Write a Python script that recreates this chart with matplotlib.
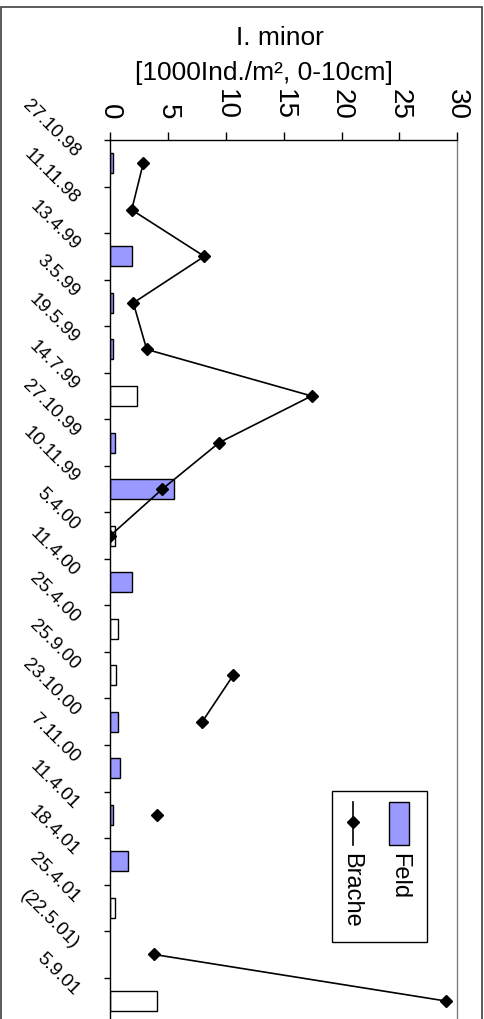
import numpy as np
import matplotlib
matplotlib.use("Agg")
import matplotlib.pyplot as plt
from matplotlib.patches import Rectangle
from matplotlib.lines import Line2D
from matplotlib.transforms import ScaledTranslation

plt.rcParams['font.family'] = ['Liberation Sans', 'DejaVu Sans']

# Sampling dates (category axis, top to bottom)
dates = ['27.10.98', '11.11.98', '13.4.99', '3.5.99', '19.5.99', '14.7.99',
         '27.10.99', '10.11.99', '5.4.00', '11.4.00', '25.4.00', '25.9.00',
         '23.10.00', '7.11.00', '11.4.01', '18.4.01', '25.4.01', '(22.5.01)',
         '5.9.01']

nan = np.nan
# Field plots, filled bars [1000 Ind./m²]
feld = [0.2, nan, 1.85, 0.2, 0.2, nan, 0.37, 5.5, nan, 1.85, nan, nan,
        0.69, 0.84, 0.2, 1.5, nan, nan, nan]
# Field plots, open bars [1000 Ind./m²]
feld_open = [nan, nan, nan, nan, nan, 2.33, nan, nan, 0.37, nan, 0.69, 0.52,
             nan, nan, nan, nan, 0.37, nan, 4.01]
# Fallow plots [1000 Ind./m²]
brache = [2.85, 1.85, 8.13, 1.99, 3.15, 17.4, 9.43, 4.5, 0.0, nan, nan,
          10.63, 7.95, nan, 4.01, nan, nan, 3.78, 29.0]

value_ticks = [0, 5, 10, 15, 20, 25, 30]
title_lines = ['I. minor', '[1000Ind./m², 0-10cm]']
legend_labels = ['Feld', 'Brache']

W, H, DPI = 485, 1019, 100
fig = plt.figure(figsize=(W / DPI, H / DPI), dpi=DPI)
fig.patch.set_facecolor('white')

# axes geometry in pixels
ax_l, ax_r, ax_t = 110.3, 457.3, 140.0
slot = 46.54
ax_b = ax_t + slot * len(dates)
ax = fig.add_axes([ax_l / W, (H - ax_b) / H, (ax_r - ax_l) / W, (ax_b - ax_t) / H])

pos = np.arange(len(dates))
bar_h = 0.43
ax.barh(pos, feld, height=bar_h, color='#9999FF', edgecolor='black',
        linewidth=1.0, zorder=2)
ax.barh(pos, feld_open, height=bar_h, color='white', edgecolor='black',
        linewidth=1.0, zorder=2)
ax.plot(brache, pos, color='black', lw=1.2, marker='D', ms=6.5,
        mfc='black', mec='black', zorder=3)

ax.set_xlim(0, 30)
ax.set_ylim(len(dates) - 0.5, -0.5)

for s in ['left', 'top']:
    ax.spines[s].set_color('black')
    ax.spines[s].set_linewidth(1.0)
for s in ['right', 'bottom']:
    ax.spines[s].set_color('#808080')
    ax.spines[s].set_linewidth(1.0)

# value axis on top
ax.xaxis.tick_top()
ax.set_xticks(value_ticks)
ax.set_xticklabels([])
ax.tick_params(axis='x', direction='out', length=5.5, width=1.0, color='black')
voff = ScaledTranslation(0, 20 / DPI, fig.dpi_scale_trans)
for v in value_ticks:
    ax.text(v, 1.0, str(v), transform=ax.get_xaxis_transform() + voff,
            rotation=-90, ha='center', va='bottom', fontsize=20)

# category axis: ticks on slot boundaries, labels rotated
ax.set_yticks(np.arange(len(dates) + 1) - 0.5)
ax.set_yticklabels([])
ax.tick_params(axis='y', direction='out', length=4, width=1.0, color='black')
loff = ScaledTranslation(-37 / DPI, 5 / DPI, fig.dpi_scale_trans)
for i, d in enumerate(dates):
    ax.text(0, i, d, transform=ax.get_yaxis_transform() + loff,
            rotation=-45, rotation_mode='anchor', ha='right', va='baseline',
            fontsize=13.5)

# title
fig.text(280 / W, 1 - 45 / H, title_lines[0], ha='center', va='baseline',
         fontsize=19)
fig.text(264 / W, 1 - 80 / H, title_lines[1], ha='center', va='baseline',
         fontsize=19)

# legend (rotated entries)
def ax_x(px):
    return (px - ax_l) / (ax_r - ax_l)

def ax_y(py):
    return (ax_b - py) / (ax_b - ax_t)

ax.add_patch(Rectangle((ax_x(332), ax_y(941.7)), ax_x(426.7) - ax_x(332),
                       ax_y(790.7) - ax_y(941.7), transform=ax.transAxes,
                       facecolor='white', edgecolor='black', lw=1.0,
                       zorder=4, clip_on=False))
ax.add_patch(Rectangle((ax_x(389.3), ax_y(845)), ax_x(409.3) - ax_x(389.3),
                       ax_y(801.7) - ax_y(845), transform=ax.transAxes,
                       facecolor='#9999FF', edgecolor='black', lw=1.0,
                       zorder=5, clip_on=False))
ax.add_line(Line2D([ax_x(353.3), ax_x(353.3)], [ax_y(845), ax_y(801.7)],
                   transform=ax.transAxes, color='black', lw=1.2, zorder=5))
ax.add_line(Line2D([ax_x(353.3)], [ax_y(822.3)], transform=ax.transAxes,
                   marker='D', ms=6.5, color='black', zorder=6))
ax.text(ax_x(399.3), ax_y(853), legend_labels[0], transform=ax.transAxes,
        rotation=-90, ha='center', va='top', fontsize=17, zorder=6)
ax.text(ax_x(351), ax_y(853), legend_labels[1], transform=ax.transAxes,
        rotation=-90, ha='center', va='top', fontsize=17, zorder=6)

# chart frame
fig.add_artist(Rectangle((1.5 / W, -0.02), (481.7 - 1.5) / W, 1.02 - 7.3 / H,
                         transform=fig.transFigure, fill=False,
                         edgecolor='#404040', lw=1.2))

fig.savefig('out.png', dpi=DPI)
